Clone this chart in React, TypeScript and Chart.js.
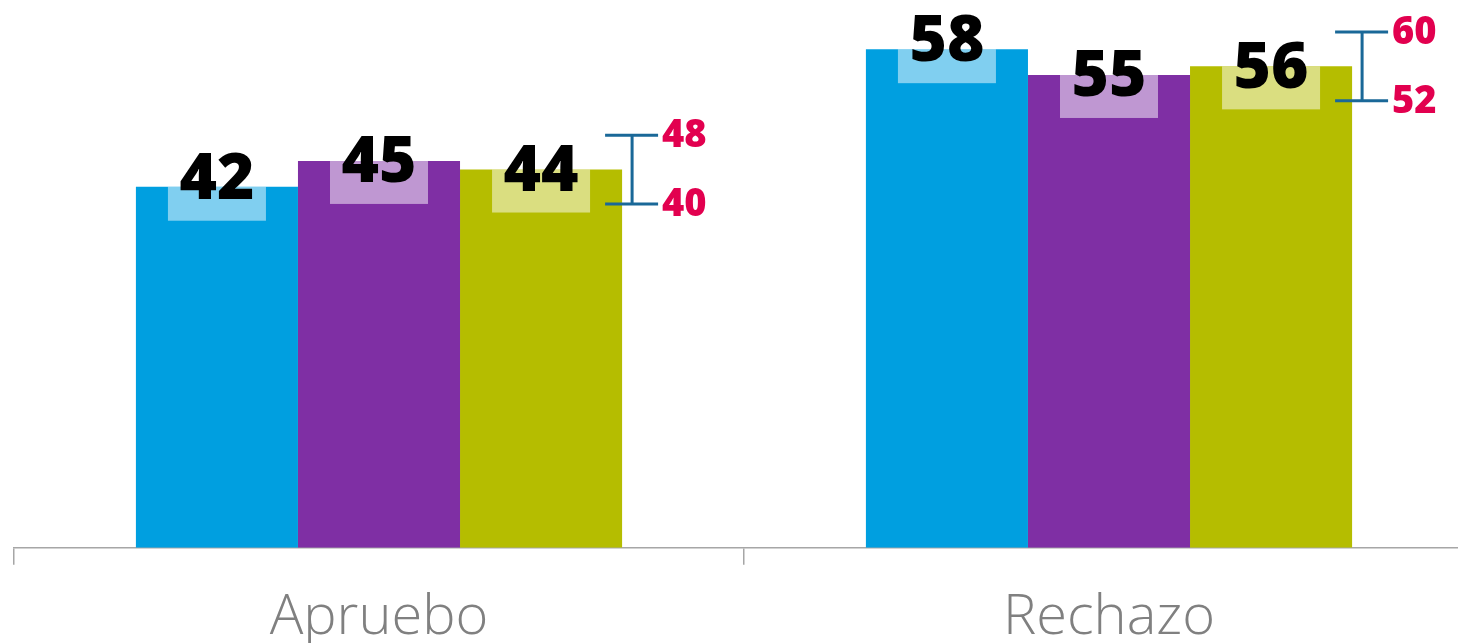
import React, { useEffect, useRef } from "react";
import { Chart, registerables } from "chart.js";

Chart.register(...registerables);

const categories = ["Apruebo", "Rechazo"];
const seriesNames = ["Serie A", "Serie B", "Serie C"];
const seriesA = [42, 58];
const seriesB = [45, 55];
const seriesC = [44, 56];
const seriesColors = ["#009FE0", "#7F2FA4", "#B5BD00"];
const rangeHigh = [48, 60];
const rangeLow = [40, 52];

const labelPlugin = {
  id: "labelsAndRanges",
  afterDatasetsDraw(chart: any) {
    const ctx = chart.ctx;
    const yScale = chart.scales.y;
    const offsets = [-9, 0, 0];
    ctx.save();
    chart.data.datasets.forEach((ds: any, i: number) => {
      const meta = chart.getDatasetMeta(i);
      meta.data.forEach((bar: any, j: number) => {
        const x = bar.x;
        const top = bar.y;
        const tc = top + offsets[i];
        const boxTop = Math.max(top, tc - 10);
        ctx.fillStyle = "rgba(255,255,255,0.5)";
        ctx.fillRect(x - 49, boxTop, 98, tc + 43 - boxTop);
        ctx.fillStyle = "#000000";
        ctx.font = "800 64px 'Open Sans'";
        ctx.textAlign = "center";
        ctx.textBaseline = "middle";
        ctx.fillText(String(ds.data[j]), x, tc + 3);
      });
    });
    const last = chart.getDatasetMeta(chart.data.datasets.length - 1);
    last.data.forEach((bar: any, j: number) => {
      const x = bar.x + bar.width / 2 + 10;
      const yHi = yScale.getPixelForValue(rangeHigh[j]);
      const yLo = yScale.getPixelForValue(rangeLow[j]);
      ctx.strokeStyle = "#1A6898";
      ctx.lineWidth = 3;
      ctx.beginPath();
      ctx.moveTo(x, yHi);
      ctx.lineTo(x, yLo);
      ctx.moveTo(x - 27, yHi);
      ctx.lineTo(x + 26, yHi);
      ctx.moveTo(x - 27, yLo);
      ctx.lineTo(x + 26, yLo);
      ctx.stroke();
      ctx.fillStyle = "#E2004F";
      ctx.font = "800 38px 'Open Sans'";
      ctx.textAlign = "left";
      ctx.textBaseline = "middle";
      ctx.fillText(String(rangeHigh[j]), x + 30, yHi + 1);
      ctx.fillText(String(rangeLow[j]), x + 30, yLo + 1);
    });
    ctx.restore();
  },
};

export default function App() {
  const ref = useRef<HTMLCanvasElement | null>(null);
  useEffect(() => {
    document.body.style.margin = "0";
    document.body.style.overflow = "hidden";
    const canvas = ref.current;
    if (!canvas) return;
    const chart = new Chart(canvas, {
      type: "bar",
      data: {
        labels: categories,
        datasets: [seriesA, seriesB, seriesC].map((d, i) => ({
          label: seriesNames[i],
          data: d,
          backgroundColor: seriesColors[i],
          borderWidth: 0,
          categoryPercentage: 0.666,
          barPercentage: 1,
        })),
      },
      options: {
        animation: false,
        responsive: false,
        maintainAspectRatio: false,
        layout: { padding: { left: 14, right: 6, top: 0, bottom: 0 } },
        plugins: {
          legend: { display: false },
          tooltip: { enabled: false },
          title: { display: false },
        },
        scales: {
          y: {
            display: false,
            min: 0,
            max: 63.72,
          },
          x: {
            grid: {
              display: true,
              drawOnChartArea: false,
              drawTicks: true,
              tickLength: 17,
              color: "#A6A6A6",
              lineWidth: 1.5,
              offset: true,
            },
            border: { display: true, color: "#A6A6A6", width: 1.5 },
            ticks: {
              color: "#808080",
              padding: 20,
              font: { family: "'Open Sans'", size: 56, weight: "300" as any },
            },
          },
        },
      },
      plugins: [labelPlugin],
    });
    return () => chart.destroy();
  }, []);
  return (
    <div style={{ width: 1458, height: 643, overflow: "hidden" }}>
      <canvas ref={ref} width={1480} height={672} style={{ display: "block" }} />
    </div>
  );
}
